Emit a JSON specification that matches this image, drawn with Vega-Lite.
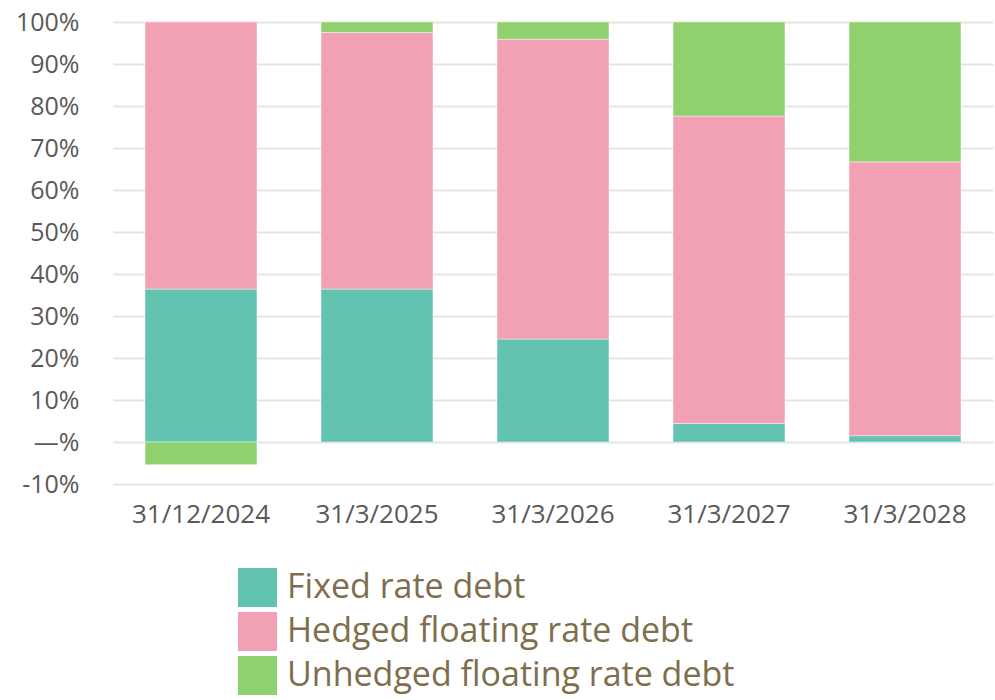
{
  "$schema": "https://vega.github.io/schema/vega-lite/v6.json",
  "width": 880,
  "height": 462,
  "autosize": {"type": "none"},
  "padding": {"left": 113, "top": 22, "right": 2, "bottom": 216},
  "background": "white",
  "config": {
    "view": {"stroke": null},
    "font": "Open Sans"
  },
  "data": {
    "values": [
      {"date": "31/12/2024", "type": "Fixed rate debt", "k": 1, "value": 36.4},
      {"date": "31/12/2024", "type": "Hedged floating rate debt", "k": 2, "value": 63.6},
      {"date": "31/12/2024", "type": "Unhedged floating rate debt", "k": 3, "value": -5.4},
      {"date": "31/3/2025", "type": "Fixed rate debt", "k": 1, "value": 36.4},
      {"date": "31/3/2025", "type": "Hedged floating rate debt", "k": 2, "value": 61.1},
      {"date": "31/3/2025", "type": "Unhedged floating rate debt", "k": 3, "value": 2.5},
      {"date": "31/3/2026", "type": "Fixed rate debt", "k": 1, "value": 24.5},
      {"date": "31/3/2026", "type": "Hedged floating rate debt", "k": 2, "value": 71.4},
      {"date": "31/3/2026", "type": "Unhedged floating rate debt", "k": 3, "value": 4.1},
      {"date": "31/3/2027", "type": "Fixed rate debt", "k": 1, "value": 4.4},
      {"date": "31/3/2027", "type": "Hedged floating rate debt", "k": 2, "value": 73.2},
      {"date": "31/3/2027", "type": "Unhedged floating rate debt", "k": 3, "value": 22.4},
      {"date": "31/3/2028", "type": "Fixed rate debt", "k": 1, "value": 1.5},
      {"date": "31/3/2028", "type": "Hedged floating rate debt", "k": 2, "value": 65.2},
      {"date": "31/3/2028", "type": "Unhedged floating rate debt", "k": 3, "value": 33.3}
    ]
  },
  "mark": {"type": "bar", "stroke": "white", "strokeWidth": 0.6, "strokeOpacity": 0.7},
  "encoding": {
    "x": {
      "field": "date",
      "type": "nominal",
      "sort": null,
      "scale": {"paddingInner": 0.364, "paddingOuter": 0.182},
      "axis": {
        "title": null,
        "labelAngle": 0,
        "labelFontSize": 26,
        "labelColor": "#595959",
        "labelPadding": 17,
        "domain": false,
        "ticks": false
      }
    },
    "y": {
      "field": "value",
      "type": "quantitative",
      "stack": "zero",
      "scale": {"domain": [-10, 100], "nice": false},
      "axis": {
        "title": null,
        "values": [-10, 0, 10, 20, 30, 40, 50, 60, 70, 80, 90, 100],
        "labelExpr": "datum.value == 0 ? '—%' : datum.value + '%'",
        "labelFontSize": 25,
        "labelColor": "#595959",
        "labelPadding": 34,
        "domain": false,
        "ticks": false,
        "grid": true,
        "gridColor": "#E4E4E4",
        "gridWidth": 2
      }
    },
    "color": {
      "field": "type",
      "type": "nominal",
      "scale": {
        "domain": ["Fixed rate debt", "Hedged floating rate debt", "Unhedged floating rate debt"],
        "range": ["#62C3B1", "#F1A1B3", "#8FD16E"]
      },
      "legend": {
        "title": null,
        "orient": "none",
        "legendX": 125,
        "legendY": 546,
        "direction": "vertical",
        "symbolType": "square",
        "symbolSize": 1521,
        "symbolStrokeWidth": 0,
        "symbolOpacity": 1,
        "labelFontSize": 34,
        "labelColor": "#7E6E4C",
        "labelOffset": 10,
        "rowPadding": 5,
        "labelLimit": 700
      }
    },
    "order": {"field": "k", "type": "quantitative"}
  }
}
